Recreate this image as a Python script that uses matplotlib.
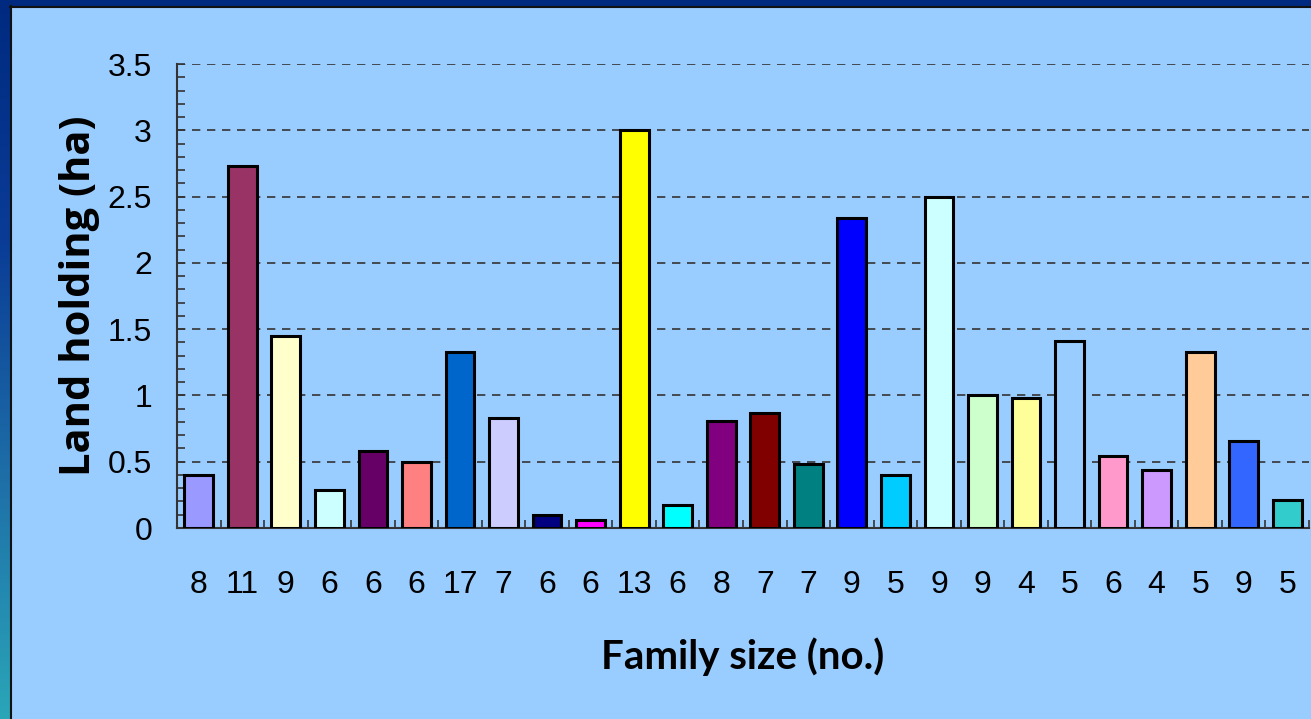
import numpy as np
import matplotlib
matplotlib.use("Agg")
import matplotlib.pyplot as plt
from matplotlib.ticker import MultipleLocator, FixedLocator, NullFormatter, FuncFormatter
from matplotlib.colors import LinearSegmentedColormap

family_size = ["8", "11", "9", "6", "6", "6", "17", "7", "6", "6", "13", "6", "8",
               "7", "7", "9", "5", "9", "9", "4", "5", "6", "4", "5", "9", "5"]
land_holding = [0.40, 2.73, 1.45, 0.29, 0.58, 0.50, 1.33, 0.83, 0.10, 0.06, 3.00, 0.17, 0.81,
                0.87, 0.48, 2.34, 0.40, 2.50, 1.00, 0.98, 1.41, 0.54, 0.44, 1.33, 0.66, 0.21]
bar_colors = ["#9999FF", "#993366", "#FFFFCC", "#CCFFFF", "#660066", "#FF8080", "#0066CC",
              "#CCCCFF", "#000080", "#FF00FF", "#FFFF00", "#00FFFF", "#800080", "#800000",
              "#008080", "#0000FF", "#00CCFF", "#CCFFFF", "#CCFFCC", "#FFFF99", "#99CCFF",
              "#FF99CC", "#CC99FF", "#FFCC99", "#3366FF", "#33CCCC"]

W, H = 1311, 719
bg = "#99CCFF"
fig = plt.figure(figsize=(W / 100, H / 100), dpi=100, facecolor=bg)

# border: top band and left gradient strip
top = fig.add_axes([0, 1 - 6 / H, 1, 6 / H])
top.axis("off")
top.add_patch(plt.Rectangle((0, 0), 1, 1, color="#002A80", transform=top.transAxes))
left = fig.add_axes([0, 0, 10 / W, 1])
grad = np.linspace(0, 1, 256).reshape(-1, 1)
cmap = LinearSegmentedColormap.from_list("b", ["#2AA6B8", "#1E6FA8", "#0A3C96", "#002A80"])
left.imshow(grad, aspect="auto", cmap=cmap, origin="lower", extent=[0, 1, 0, 1])
left.axis("off")
fig.add_artist(plt.Line2D([10.5 / W, 10.5 / W], [0, 1 - 6 / H], color="#111111", lw=1.5,
                          transform=fig.transFigure))
fig.add_artist(plt.Line2D([10 / W, 1], [1 - 6.5 / H, 1 - 6.5 / H], color="#111111", lw=1.5,
                          transform=fig.transFigure))

ax = fig.add_axes([177 / W, (H - 528) / H, (1309 - 177) / W, (528 - 64) / H])
ax.set_facecolor(bg)
x = np.arange(len(land_holding))
ax.bar(x, land_holding, width=0.66, color=bar_colors, edgecolor="black", linewidth=2.2, zorder=3)

ax.set_xlim(-0.5, len(land_holding) - 0.5)
ax.set_ylim(0, 3.5)
ax.yaxis.set_major_locator(MultipleLocator(0.5))
ax.yaxis.set_minor_locator(MultipleLocator(0.1))
ax.yaxis.set_major_formatter(FuncFormatter(lambda v, p: f"{v:g}"))
ax.grid(axis="y", which="major", linestyle=(0, (5, 4)), color="#333333", linewidth=1.2, zorder=1)

ax.set_xticks(x)
ax.set_xticklabels(family_size)
ax.xaxis.set_minor_locator(FixedLocator(np.arange(-0.5, len(land_holding), 1.0)))
ax.xaxis.set_minor_formatter(NullFormatter())
ax.tick_params(axis="x", which="major", length=0, pad=30, labelsize=23)
ax.tick_params(axis="x", which="minor", direction="in", length=6, width=1.2, color="#333333")
ax.tick_params(axis="y", which="both", direction="in", length=6, width=1.2, color="#333333")
ax.tick_params(axis="y", which="major", pad=18, labelsize=23)
for lab in ax.get_xticklabels() + ax.get_yticklabels():
    lab.set_fontfamily("Liberation Sans")

for s in ["top", "right"]:
    ax.spines[s].set_visible(False)
for s in ["left", "bottom"]:
    ax.spines[s].set_color("#333333")
    ax.spines[s].set_linewidth(1.5)

fig.text(743 / W, 1 - 657 / H, "Family size (no.)", ha="center", va="center",
         fontsize=29, fontweight="bold", family="Lato")
fig.text(80 / W, 1 - 296 / H, "Land holding (ha)", ha="center", va="center", rotation=90,
         fontsize=30, fontweight="bold", family="Open Sans")

fig.savefig("out.png", dpi=100, facecolor=bg)
